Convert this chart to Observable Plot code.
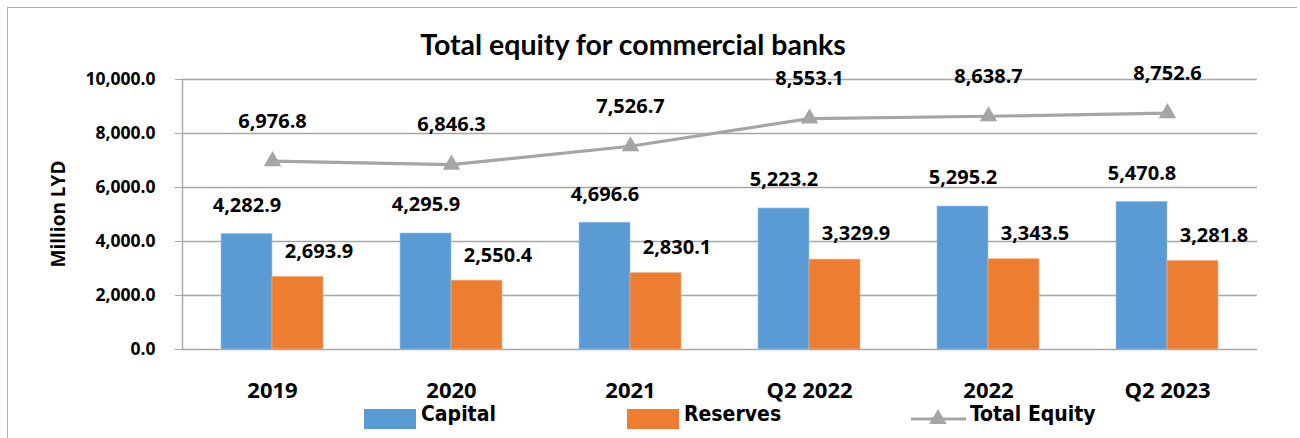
<!DOCTYPE html>
<html>
<head>
<meta charset="utf-8">
<script src="https://cdn.jsdelivr.net/npm/d3@7"></script>
<script src="https://cdn.jsdelivr.net/npm/@observablehq/plot@0.6"></script>
<style>
  html, body { margin: 0; padding: 0; background: #fff; }
  #wrap { position: relative; width: 1300px; height: 438px; overflow: hidden; background: #fff; }
  #border { position: absolute; left: 7px; top: 7px; width: 1290px; height: 440px;
            border-left: 1.5px solid #8db3e2; border-top: 1.5px solid #8db3e2; box-sizing: border-box; }
  #chart { position: absolute; left: 0; top: 0; }
  #title { position: absolute; left: 0; width: 1266px; top: 26px; text-align: center;
           font-family: Lato, "Open Sans", sans-serif; font-weight: 700; font-size: 28.5px; color: #000; line-height: 36px; }
  #ylab { position: absolute; left: 58px; top: 214px; transform: translate(-50%, -50%) rotate(-90deg);
          font-family: "Open Sans", sans-serif; font-weight: 700; font-size: 19px; white-space: nowrap; color: #000; }
  .lg { position: absolute; font-family: "DejaVu Sans Condensed", "DejaVu Sans", sans-serif;
        font-weight: 700; font-size: 21px; color: #000; white-space: nowrap; line-height: 24px; }
  .sw { position: absolute; }
</style>
</head>
<body>
<div id="wrap">
  <div id="border"></div>
  <div id="chart"></div>
  <div id="title">Total equity for commercial banks</div>
  <div id="ylab">Million LYD</div>
  <div id="legend"></div>
</div>
<script>
// ---- data ----
const categories = ["2019", "2020", "2021", "Q2 2022", "2022", "Q2 2023"];
const capital = [4282.9, 4295.9, 4696.6, 5223.2, 5295.2, 5470.8];
const reserves = [2693.9, 2550.4, 2830.1, 3329.9, 3343.5, 3281.8];
const totalEquity = [6976.8, 6846.3, 7526.7, 8553.1, 8638.7, 8752.6];
const yTicks = [0, 2000, 4000, 6000, 8000, 10000];
const seriesNames = ["Capital", "Reserves", "Total Equity"];
const seriesColors = ["#5b9bd5", "#ed7d31", "#a5a5a5"];

const rows = categories.map((c, i) => ({cat: c, capital: capital[i], reserves: reserves[i], total: totalEquity[i]}));
const fmt = d3.format(",.1f");
const half = 51;

const plot = Plot.plot({
  width: 1300,
  height: 438,
  marginLeft: 182,
  marginRight: 43,
  marginTop: 79,
  marginBottom: 89,
  style: {fontFamily: "'Open Sans', sans-serif", fontWeight: "bold", color: "#000", background: "transparent"},
  x: {type: "band", domain: categories, paddingInner: 0.43, paddingOuter: 0.215, label: null},
  y: {domain: [0, 10000], label: null},
  marks: [
    Plot.ruleY(yTicks, {stroke: "#a6a6a6", strokeWidth: 1.4}),
    Plot.frame({anchor: "left", stroke: "#a6a6a6", strokeWidth: 1.4}),
    Plot.axisY({ticks: yTicks, tickSize: 7, tickPadding: 20, tickFormat: fmt, stroke: "#a6a6a6", fill: "#000", fontSize: 17.5, label: null}),
    Plot.axisX({tickSize: 0, tickPadding: 33, fontSize: 22, fill: "#000", label: null}),
    Plot.barY(rows, {x: "cat", y: "capital", fill: seriesColors[0], insetRight: half, stroke: "#9dc3e6", strokeWidth: 0.6}),
    Plot.barY(rows, {x: "cat", y: "reserves", fill: seriesColors[1], insetLeft: half, stroke: "#f4b183", strokeWidth: 0.6}),
    Plot.line(rows, {x: "cat", y: "total", stroke: seriesColors[2], strokeWidth: 3.2}),
    Plot.dot(rows, {x: "cat", y: "total", symbol: "triangle", r: 6.5, fill: seriesColors[2], stroke: "none"}),
    Plot.text(rows, {x: "cat", y: "capital", text: d => fmt(d.capital), dx: -25.5, dy: -28.5, fontSize: 20, fill: "#000"}),
    Plot.text(rows, {x: "cat", y: "reserves", text: d => fmt(d.reserves), dx: 46.5, dy: -25.5, fontSize: 20, fill: "#000"}),
    Plot.text(rows, {x: "cat", y: "total", text: d => fmt(d.total), dy: -40, fontSize: 20, fill: "#000"})
  ]
});
document.getElementById("chart").appendChild(plot);

// ---- legend ----
const legend = document.getElementById("legend");
const swatchX = [364, 627];
const textX = [421, 684];
[0, 1].forEach(i => {
  const s = document.createElement("div");
  s.className = "sw";
  s.style.cssText = `left:${swatchX[i]}px;top:409px;width:52px;height:20px;background:${seriesColors[i]};`;
  legend.appendChild(s);
  const t = document.createElement("div");
  t.className = "lg";
  t.style.cssText = `left:${textX[i]}px;top:402px;`;
  t.textContent = seriesNames[i];
  legend.appendChild(t);
});
const ns = "http://www.w3.org/2000/svg";
const lsvg = document.createElementNS(ns, "svg");
lsvg.setAttribute("width", 60); lsvg.setAttribute("height", 24);
lsvg.style.cssText = "position:absolute;left:909px;top:406px;";
const ln = document.createElementNS(ns, "line");
ln.setAttribute("x1", 2); ln.setAttribute("x2", 57); ln.setAttribute("y1", 13); ln.setAttribute("y2", 13);
ln.setAttribute("stroke", seriesColors[2]); ln.setAttribute("stroke-width", 3.2);
lsvg.appendChild(ln);
const tri = document.createElementNS(ns, "path");
tri.setAttribute("d", d3.symbol(d3.symbolTriangle, Math.PI * 6.5 * 6.5)());
tri.setAttribute("transform", "translate(29,13)");
tri.setAttribute("fill", seriesColors[2]);
lsvg.appendChild(tri);
legend.appendChild(lsvg);
const t3 = document.createElement("div");
t3.className = "lg";
t3.style.cssText = "left:970px;top:402px;";
t3.textContent = seriesNames[2];
legend.appendChild(t3);
</script>
</body>
</html>
